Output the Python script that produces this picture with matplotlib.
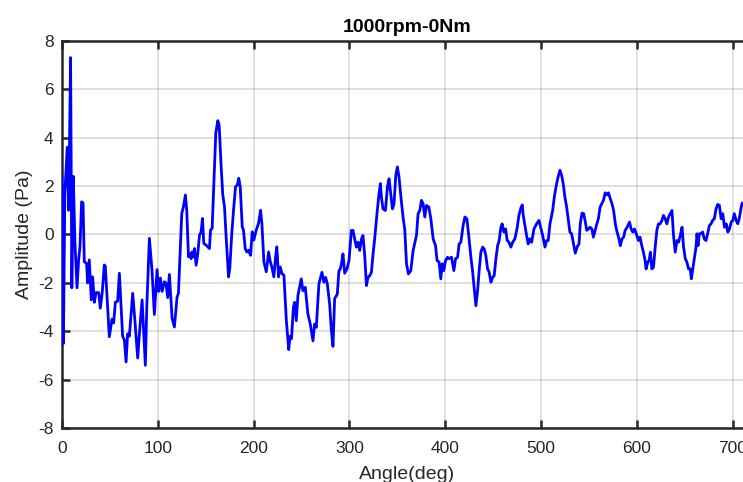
import numpy as np
import matplotlib
matplotlib.use('Agg')
import matplotlib.pyplot as plt

plt.rcParams['font.family'] = ['Liberation Sans', 'DejaVu Sans']

title = '1000rpm-0Nm'
x_label = 'Angle(deg)'
y_label = 'Amplitude (Pa)'
x_ticks = [0, 100, 200, 300, 400, 500, 600, 700]
y_ticks = [-8, -6, -4, -2, 0, 2, 4, 6, 8]

# values (angle in deg, amplitude in Pa)
angle = [
    0, 1.5, 3, 5.5, 7, 9, 10.3, 11.8, 13.5, 15.7, 17.4, 18.8, 20.5, 22, 23.3, 25.7, 26.8, 28.5,
    30.6, 32, 33.8, 35.5, 38.3, 40, 42, 44.2, 45.2, 49.4, 52.2, 53.9, 55.7, 58.1, 59.9, 63.3,
    65.1, 66.9, 68.5, 70.3, 73.8, 76.3, 79, 80.8, 83.6, 87, 88.5, 91.2, 94, 96.4, 99.2, 100.9,
    102.7, 104.5, 106.9, 108.5, 110.3, 112.1, 114.9, 117.3, 120.1, 121.5, 125, 126.7, 128.8,
    130.2, 132, 133.7, 134.8, 135.8, 137.2, 138.2, 140, 141.7, 143.5, 145.2, 146.6, 148, 150.5,
    152.2, 153.9, 155, 156.7, 158.4, 160.5, 162.6, 164, 166.1, 167.8, 169.6, 171.3, 173.8,
    175.1, 177.2, 179, 181.1, 182.9, 184.5, 186, 188.1, 189.4, 191.2, 192.9, 194.7, 196.8,
    198.5, 200.2, 202.7, 205.1, 207.2, 208.6, 210.7, 213.2, 215.6, 217.4, 219, 221.1, 222.9,
    224.2, 226, 227.8, 229.5, 231.6, 234.1, 236.6, 238, 239.5, 241.5, 242.7, 244.5, 246.2,
    249.7, 251.4, 253.9, 256.6, 259.1, 261.9, 263.6, 265.4, 268.1, 271.3, 273.4, 275.1, 276.9,
    279.3, 281.1, 282.8, 284.5, 287.3, 289, 290.5, 292.2, 293.2, 295, 297.4, 299.5, 302, 303.7,
    305.4, 307.2, 308.9, 310.7, 312.5, 314.1, 315.9, 317.7, 319.3, 321.1, 322.9, 324.6, 326.3,
    328.7, 330.8, 332.3, 333.3, 335, 337.5, 339.6, 341.3, 343.1, 344.8, 346.5, 348.3, 350,
    351.7, 353.5, 355.9, 357.7, 359.5, 361.5, 364, 366.4, 369.9, 371.6, 373.4, 375.1, 376.8,
    378.6, 380.4, 382.8, 384.9, 387.3, 389.8, 391.4, 393.5, 395.3, 396.7, 398.4, 400.2, 402.3,
    404, 406.5, 408.9, 410.7, 412.8, 414.4, 416.2, 418.6, 420.4, 422.5, 424.6, 426.7, 428.4,
    430.1, 431.9, 433.7, 435.3, 437.1, 438.9, 440.5, 442.3, 444.1, 445.8, 447.6, 449.4, 451,
    452.8, 454.6, 456.2, 458, 459.3, 461.2, 462.9, 464.6, 466.4, 468.4, 470.3, 472.6, 475.1,
    476.8, 478.9, 480.3, 481.3, 483.1, 484.8, 486.5, 488.3, 490.1, 492.5, 495.3, 497.7, 499.5,
    501.6, 504, 505.7, 507.4, 509.2, 512, 513.7, 515.5, 517.2, 519.6, 521.4, 523, 524.8, 526.6,
    528.2, 530, 531.8, 533.5, 535.6, 537.7, 539.5, 540.8, 542.6, 544.4, 546.1, 547.6, 549.3,
    551.1, 552.9, 554.5, 556.3, 558.1, 559.7, 561.5, 563.3, 565, 566.8, 568.6, 570.3, 572.1,
    573.9, 575.6, 577.4, 579.2, 580.8, 582.6, 584.4, 586.1, 587.6, 589.7, 592.2, 593.9, 595.6,
    597.4, 599.5, 601.5, 603.2, 605, 606.7, 608.5, 609.5, 611.3, 612.6, 614, 615.5, 617.2, 619,
    620.7, 622.4, 624.2, 626, 627.6, 629.4, 631.2, 632.9, 634.7, 636.5, 638.1, 639.9, 641.7,
    643.4, 645.2, 647, 648.6, 650.4, 652.1, 653.8, 655.6, 656.7, 658, 659.8, 661.6, 662.6,
    663.7, 665, 666.7, 668.5, 670.2, 672, 673.7, 675.5, 677.3, 678.9, 680.7, 682.5, 684.2, 686,
    687.8, 689.5, 691.3, 693.1, 694.8, 696.5, 698.3, 700, 701.5, 703.5, 705.2, 707, 708.7,
    709.8, 712, 715, 720,
]
amplitude = [
    2.4, -4.5, 1.7, 3.6, 1.0, 7.3, -2.2, 2.4, -0.3, -2.2, -1.05, -0.5, 1.35, 1.3, -1.12, -1.2,
    -2.0, -1.05, -2.7, -1.75, -2.8, -2.4, -2.4, -3.04, -2.4, -1.26, -1.3, -4.22, -3.5, -3.65,
    -2.8, -2.75, -1.6, -4.2, -4.35, -5.26, -4.1, -4.2, -2.43, -3.65, -5.1, -4.1, -2.7, -5.4,
    -3.0, -0.16, -1.5, -3.3, -1.45, -2.35, -1.8, -2.35, -1.95, -2.0, -2.6, -1.65, -3.45, -3.82,
    -2.58, -2.44, 0.87, 1.14, 1.63, 1.0, -0.92, -0.79, -1.0, -0.72, -0.92, -0.58, -1.27, -0.79,
    -0.03, 0.11, 0.66, -0.37, -0.44, -0.51, -0.58, 0.18, 0.25, 1.97, 4.18, 4.7, 4.52, 2.8, 1.63,
    1.14, -0.1, -1.75, -1.4, 0.04, 1.0, 1.97, 2.04, 2.32, 1.97, 0.32, 0.18, -0.58, -0.72, -0.65,
    -0.86, 0.11, -0.23, 0.18, 0.46, 1.0, 0.46, -1.13, -1.54, -0.72, -1.13, -1.34, -1.75, -0.92,
    -0.51, -1.75, -1.34, -1.61, -1.68, -3.54, -4.75, -4.2, -4.3, -3.0, -2.8, -3.56, -2.52,
    -1.83, -2.32, -2.18, -3.28, -3.7, -4.39, -3.7, -3.83, -2.04, -1.56, -1.97, -1.77, -2.04,
    -2.87, -3.97, -4.62, -2.65, -2.46, -1.5, -1.42, -1.08, -0.8, -1.6, -1.42, -1.08, 0.17, 0.17,
    -0.18, -0.52, -0.32, -0.66, -0.18, -0.04, -0.87, -2.11, -1.77, -1.7, -1.56, -0.8, -0.18,
    0.86, 1.68, 2.1, 1.54, 1.06, 0.99, 1.96, 2.3, 1.68, 1.06, 1.27, 2.44, 2.79, 2.37, 1.61, 0.72,
    0.2, -1.21, -1.63, -1.49, -0.66, -0.04, 0.86, 0.99, 1.41, 1.27, 0.72, 1.2, 1.13, 0.65,
    -0.18, -0.46, -1.08, -1.14, -1.83, -1.21, -1.49, -1.08, -0.94, -1.0, -0.94, -1.49, -1.0,
    -0.94, -0.39, -0.32, 0.37, 0.72, 0.65, -0.11, -0.94, -1.49, -2.18, -2.94, -2.32, -1.49,
    -0.73, -0.52, -0.59, -0.87, -1.42, -1.56, -1.97, -1.77, -1.7, -1.0, -0.46, -0.25, 0.3, 0.44,
    0.1, 0.23, -0.25, -0.32, -0.52, -0.32, -0.18, 0.3, 0.79, 1.1, 1.22, 0.79, 0.37, -0.04,
    -0.39, -0.18, -0.32, 0.23, 0.44, 0.58, 0.3, -0.04, -0.52, -0.25, -0.25, 0.44, 0.99, 1.54,
    1.96, 2.3, 2.65, 2.44, 2.1, 1.54, 1.13, 0.65, 0.1, 0.03, -0.32, -0.77, -0.5, -0.39, 0.44,
    0.88, 0.86, 0.51, 0.17, 0.23, 0.3, 0.23, -0.11, 0.17, 0.44, 0.65, 1.13, 1.27, 1.41, 1.72,
    1.64, 1.72, 1.48, 1.27, 0.99, 0.44, 0.1, -0.11, -0.46, -0.18, -0.11, 0.17, 0.3, 0.51, 0.23,
    0.1, 0.23, 0.0, -0.25, -0.11, -0.46, -0.73, -1.08, -1.42, -1.14, -1.08, -0.73, -1.42, -1.35,
    -0.52, 0.17, 0.44, 0.44, 0.58, 0.79, 0.65, 0.44, 0.72, 0.86, 0.99, -0.04, -0.73, -0.25,
    -0.32, -0.04, 0.3, -0.52, -1.0, -1.14, -1.42, -1.42, -1.83, -1.49, -1.0, -0.52, 0.03, -0.46,
    0.03, 0.03, 0.1, -0.18, -0.25, 0.03, 0.37, 0.44, 0.58, 0.65, 1.06, 1.24, 1.2, 0.65, 0.86,
    0.3, 0.44, 0.1, 0.23, 0.51, 0.58, 0.86, 0.58, 0.44, 0.72, 1.13, 1.3, 1.3, 1.1, 0.9,
]

dark = '#262626'
fig = plt.figure(figsize=(7.43, 4.82), dpi=100)
ax = fig.add_axes([0.0834, 0.1114, 0.9287, 0.8042])

ax.plot(angle, amplitude, color='#0000ff', linewidth=2.0, zorder=3)

ax.set_xlim(0, 720)
ax.set_ylim(-8, 8)
ax.set_xticks(x_ticks)
ax.set_yticks(y_ticks)
ax.set_yticklabels([str(v) for v in y_ticks])

ax.grid(True, color=dark, alpha=0.17, linewidth=1.2)
ax.set_axisbelow(True)

for s in ax.spines.values():
    s.set_color(dark)
    s.set_linewidth(1.8)
ax.tick_params(direction='in', length=5.5, width=1.8, colors=dark, labelsize=12.5,
               top=True, right=True)
ax.tick_params(axis='x', pad=9.5)
ax.tick_params(axis='y', pad=6)

ax.set_title(title, fontsize=14, fontweight='bold', color='black', pad=6)
ax.set_xlabel(x_label, fontsize=14, color=dark, labelpad=7)
ax.set_ylabel(y_label, fontsize=14, color=dark, labelpad=4)

fig.savefig('out.png', dpi=100)
